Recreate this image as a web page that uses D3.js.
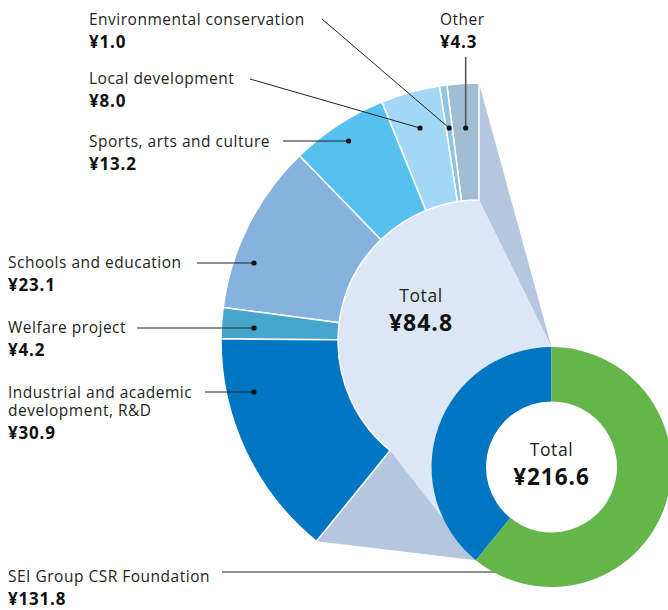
<!DOCTYPE html>
<html>
<head>
<meta charset="utf-8">
<script src="https://cdn.jsdelivr.net/npm/d3@7"></script>
<style>
  body { margin: 0; background: #fff; }
  svg { display: block; font-family: "Open Sans", sans-serif; }
</style>
</head>
<body>
<div id="chart"></div>
<script>
// totals (outer ring)
const totalNames = ["Donations", "SEI Group CSR Foundation"];
const totalValues = [84.8, 131.8];
const grandTotal = 216.6;

// breakdown of the donations slice, top going anticlockwise
const categories = ["Other", "Environmental conservation", "Local development", "Sports, arts and culture",
  "Schools and education", "Welfare project", "Industrial and academic development, R&D"];
const values = [4.3, 1.0, 8.0, 13.2, 23.1, 4.2, 30.9];
const valueLabels = ["¥4.3", "¥1.0", "¥8.0", "¥13.2", "¥23.1", "¥4.2", "¥30.9"];
const colors = ["#a1bdd4", "#8ec4e6", "#a2d8f5", "#56c1ef", "#86b2df", "#45a5cb", "#0075c2"];

const width = 668, height = 610;
const svg = d3.select("#chart").append("svg")
  .attr("width", width)
  .attr("height", height);

// layout
const big = { x: 479, y: 341, r0: 141, r1: 258 };
const small = { x: 551.5, y: 467, r0: 65.5, r1: 120 };

const outerPie = d3.pie().sort(null).value(d => d).startAngle(0).endAngle(-2 * Math.PI);
const outerArcs = outerPie(totalValues);
const aEnd = outerArcs[0].endAngle;

const innerPie = d3.pie().sort(null).value(d => d).startAngle(0).endAngle(aEnd);
const innerArcs = innerPie(values);

function pt(c, r, a) {
  return [c.x + r * Math.sin(a), c.y - r * Math.cos(a)];
}

// connector wedges
[0, aEnd].forEach(a => {
  svg.append("path")
    .attr("d", d3.line()([pt(big, big.r1, a), pt(big, big.r0, a), pt(small, small.r1, a)]) + "Z")
    .attr("fill", "#b5c7df");
});

// light area joining the two charts
const p = d3.path();
const s0 = pt(big, big.r0, 0);
p.moveTo(s0[0], s0[1]);
p.arc(big.x, big.y, big.r0, -Math.PI / 2, aEnd - Math.PI / 2, true);
const e2 = pt(small, small.r1, aEnd);
p.lineTo(e2[0], e2[1]);
p.arc(small.x, small.y, small.r1, aEnd - Math.PI / 2, -Math.PI / 2, false);
p.closePath();
svg.append("path").attr("d", p.toString()).attr("fill", "#dce7f5");

// breakdown segments
const bigArc = d3.arc().innerRadius(big.r0).outerRadius(big.r1);
svg.append("g")
  .attr("transform", `translate(${big.x},${big.y})`)
  .selectAll("path")
  .data(innerArcs)
  .join("path")
  .attr("d", d => bigArc({ startAngle: d.endAngle, endAngle: d.startAngle }))
  .attr("fill", (d, i) => colors[i])
  .attr("stroke", "#fff")
  .attr("stroke-width", 1.5)
  .attr("stroke-linejoin", "round");

// label layout
const labelPos = [
  { x: 440, y: 25, lx: 463, ly: 57, dotY: 128, vertical: true },
  { x: 89, y: 25, lx: 322, ly: 19, dotY: 128 },
  { x: 89, y: 84, lx: 250, ly: 79, dotY: 128 },
  { x: 89, y: 147, lx: 283, ly: 141, dotY: 141 },
  { x: 8, y: 268, lx: 197, ly: 263, dotX: 254 },
  { x: 8, y: 333, lx: 137, ly: 328, dotX: 254 },
  { x: 8, y: 398, lx: 205, ly: 392, dotX: 254 }
];

const labelLines = [
  ["Other"], ["Environmental conservation"], ["Local development"], ["Sports, arts and culture"],
  ["Schools and education"], ["Welfare project"], ["Industrial and academic", "development, R&D"]
];

function nameText(x, y) {
  return svg.append("text").attr("x", x).attr("y", y)
    .attr("fill", "#231f20")
    .style("font-size", "15.5px")
    .style("letter-spacing", "0.5px");
}
function valueText(x, y) {
  return svg.append("text").attr("x", x).attr("y", y)
    .attr("fill", "#111")
    .style("font-size", "17px")
    .style("font-weight", "bold")
    .style("letter-spacing", "0.8px");
}

innerArcs.forEach((d, i) => {
  const lp = labelPos[i];
  let dx, dy;
  if (lp.dotX != null) {
    dx = lp.dotX; dy = lp.ly;
  } else {
    const mid = (d.startAngle + d.endAngle) / 2;
    dy = lp.dotY;
    dx = big.x + (big.y - dy) * Math.tan(mid);
  }
  svg.append("line")
    .attr("x1", lp.vertical ? dx : lp.lx).attr("y1", lp.ly)
    .attr("x2", dx).attr("y2", dy)
    .attr("stroke", lp.vertical ? "#555" : "#222")
    .attr("stroke-width", lp.vertical ? 1.6 : 1);
  svg.append("circle").attr("cx", dx).attr("cy", dy).attr("r", 2.6).attr("fill", "#111");

  const t = nameText(lp.x, lp.y);
  labelLines[i].forEach((line, j) => {
    t.append("tspan").attr("x", lp.x).attr("dy", j === 0 ? 0 : 18).text(line);
  });
  valueText(lp.x, lp.y + 23 + (labelLines[i].length - 1) * 18).text(valueLabels[i]);
});

// foundation label
svg.append("line").attr("x1", 222).attr("y1", 572).attr("x2", 500).attr("y2", 572)
  .attr("stroke", "#222").attr("stroke-width", 1);
nameText(8, 582).text(totalNames[1]);
valueText(8, 605).text("¥" + totalValues[1]);

// small donut
const smallArc = d3.arc().innerRadius(small.r0).outerRadius(small.r1);
svg.append("g")
  .attr("transform", `translate(${small.x},${small.y})`)
  .selectAll("path")
  .data(outerArcs)
  .join("path")
  .attr("d", d => smallArc({ startAngle: d.endAngle, endAngle: d.startAngle }))
  .attr("fill", (d, i) => i === 0 ? "#0075c2" : "#64b54a");

// centre texts
function centreTexts(x, yLabel, yValue, size, value) {
  svg.append("text").attr("x", x).attr("y", yLabel).attr("text-anchor", "middle")
    .attr("fill", "#231f20").style("font-size", "17.5px").style("letter-spacing", "0.6px")
    .text("Total");
  svg.append("text").attr("x", x).attr("y", yValue).attr("text-anchor", "middle")
    .attr("fill", "#111").style("font-size", size).style("font-weight", "bold")
    .style("letter-spacing", "1px").text(value);
}
centreTexts(421, 302, 331, "23px", "¥" + totalValues[0]);
centreTexts(small.x, 456, 485, "22.5px", "¥" + grandTotal);
</script>
</body>
</html>
